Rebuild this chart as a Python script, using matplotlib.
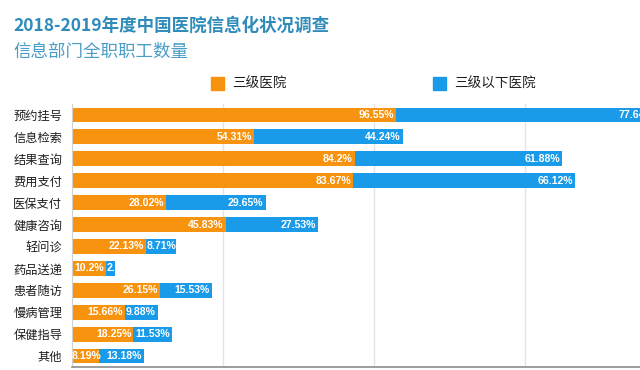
import matplotlib
matplotlib.use("Agg")
import matplotlib.pyplot as plt
from matplotlib.patches import Rectangle

plt.rcParams['font.family'] = ['Noto Sans CJK SC', 'DejaVu Sans']

# --- Data ---
categories = ["预约挂号", "信息检索", "结果查询", "费用支付", "医保支付", "健康咨询",
              "轻问诊", "药品送递", "患者随访", "慢病管理", "保健指导", "其他"]
tier3 = [96.55, 54.31, 84.2, 83.67, 28.02, 45.83, 22.13, 10.2, 26.15, 15.66, 18.25, 8.19]
below3 = [77.64, 44.24, 61.88, 66.12, 29.65, 27.53, 8.71, 2.68, 15.53, 9.88, 11.53, 13.18]
series_names = ["三级医院", "三级以下医院"]
grid_ticks = [45, 90, 135]

ORANGE = "#f7930f"
BLUE = "#1a9be9"
TITLE_C = "#2f8cba"

W, H = 640, 370
fig = plt.figure(figsize=(W / 100, H / 100), dpi=100)
ax = fig.add_axes([72 / W, 3 / H, 1 - 72 / W, 263 / H])

y = list(range(len(categories)))
b1 = ax.barh(y, tier3, height=0.68, color=ORANGE, zorder=2)
b2 = ax.barh(y, below3, left=tier3, height=0.68, color=BLUE, zorder=2)

ax.set_xlim(0, 169.2)
ax.set_ylim(len(categories) - 0.5, -0.5)
ax.set_yticks(y)
ax.set_yticklabels(categories, fontsize=8.8, color="#1e1e1e")
ax.tick_params(axis="y", length=0, pad=7)
ax.set_xticks(grid_ticks)
ax.tick_params(axis="x", length=0, labelbottom=False)
ax.grid(axis="x", color="#e4e4e4", linewidth=1.0, zorder=0)
for side in ["top", "right"]:
    ax.spines[side].set_visible(False)
ax.spines["left"].set_color("#d0d0d0")
ax.spines["bottom"].set_color("#8c8c8c")
ax.spines["bottom"].set_linewidth(1.2)

# value labels inside the bars, clipped to each bar
renderer = fig.canvas.get_renderer()
px_per_unit = ax.get_window_extent(renderer).width / 169.2
for bars, vals, starts in [(b1, tier3, [0] * len(tier3)), (b2, below3, tier3)]:
    for rect, v, s in zip(bars, vals, starts):
        yc = rect.get_y() + rect.get_height() / 2
        t = ax.text(s + v - 0.6, yc, f"{v:g}%", ha="right", va="center",
                    color="white", fontsize=7.6, fontweight="bold",
                    family="Liberation Sans", zorder=3)
        tw = t.get_window_extent(renderer).width
        if tw > v * px_per_unit - 1:
            t.set_x(s)
            t.set_ha("left")
        t.set_clip_path(rect)

# titles
fig.text(13 / W, 1 - 26 / H, "2018-2019年度中国医院信息化状况调查", fontsize=12.6,
         fontweight="bold", color=TITLE_C, va="center", ha="left")
fig.text(13 / W, 1 - 52 / H, "信息部门全职职工数量", fontsize=12.6,
         color="#4a9dc6", va="center", ha="left")

# legend
for x0, c, name in [(211, ORANGE, series_names[0]), (433, BLUE, series_names[1])]:
    fig.patches.append(Rectangle((x0 / W, 1 - 90 / H), 13 / W, 13 / H,
                                 transform=fig.transFigure, color=c))
    fig.text((x0 + 21) / W, 1 - 84 / H, name, fontsize=9.8, color="#1e1e1e",
             va="center", ha="left")

fig.savefig("out.png", dpi=100)
